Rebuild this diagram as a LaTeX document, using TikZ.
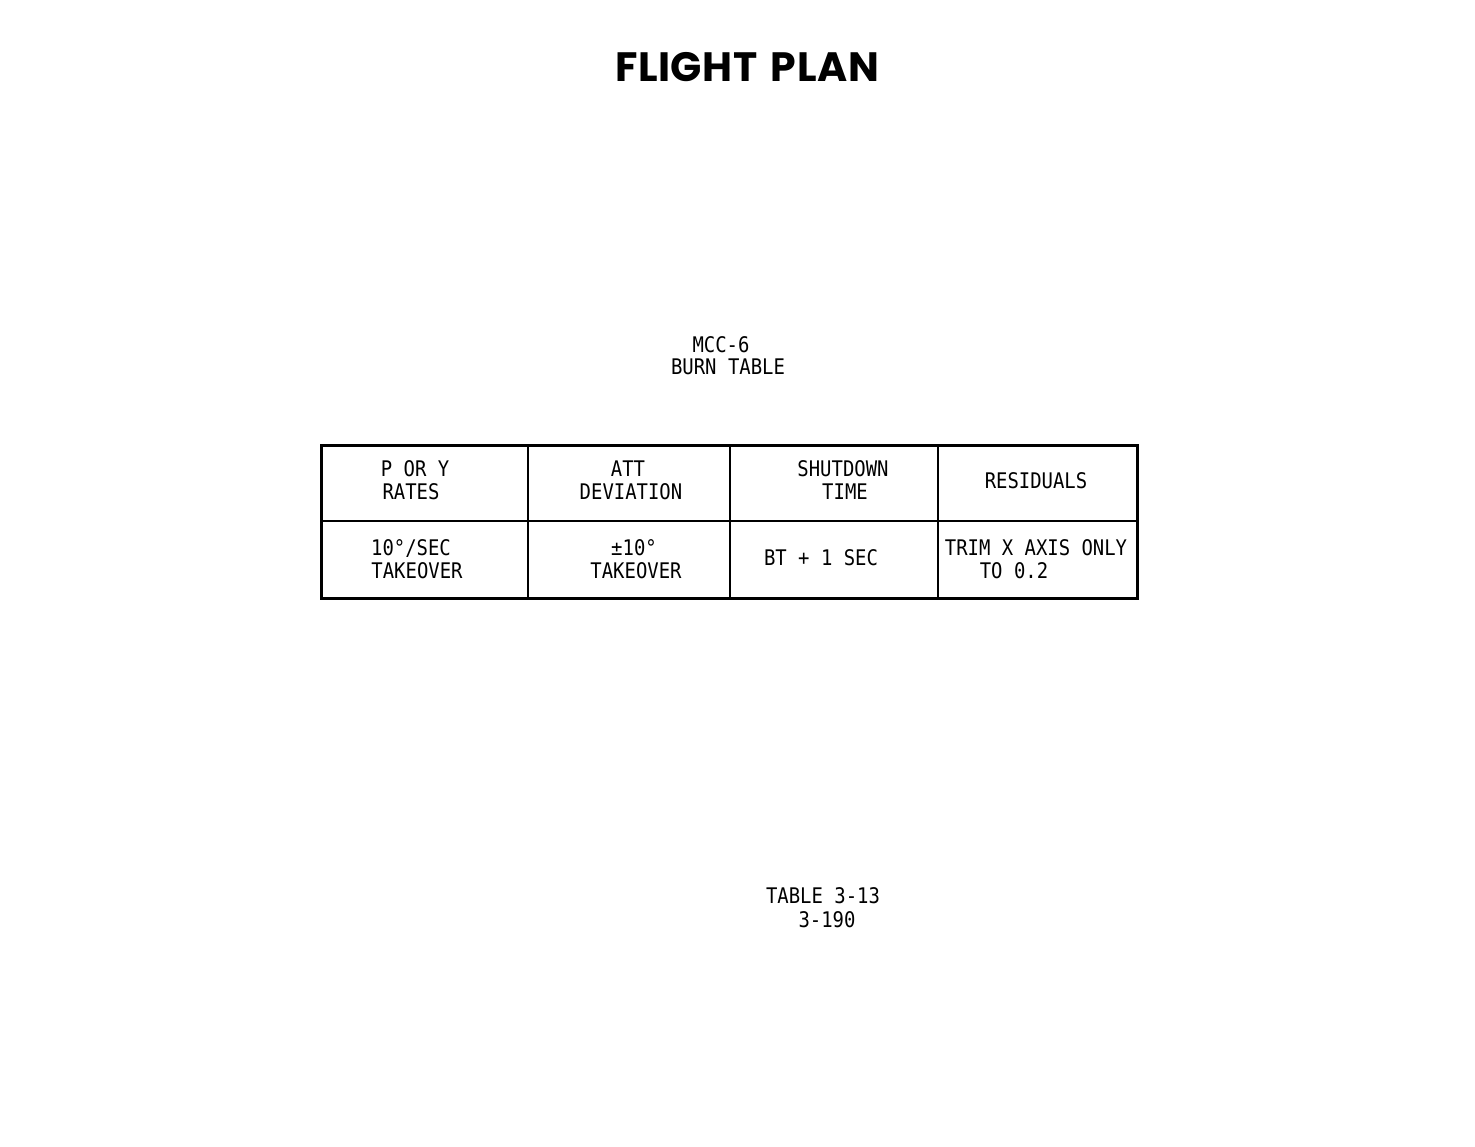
\documentclass[tikz,border=0pt]{standalone}
\usepackage{fontspec}
\newfontfamily\typefont[FakeStretch=0.88]{DejaVu Sans Mono}
\newfontfamily\titlefont[LetterSpace=1.5]{Poppins}
\begin{document}
\begin{tikzpicture}[x=1pt,y=-1pt,
  txt/.style={anchor=base,inner sep=0pt,font=\typefont\fontsize{21.5}{23}\selectfont},
  ttl/.style={anchor=base,inner sep=0pt,font=\titlefont\bfseries\fontsize{41}{46}\selectfont},
  outer/.style={line width=3pt,line join=miter},
  inner/.style={line width=2.6pt}]
\useasboundingbox (0,0) rectangle (1475,1147);
\fill[white] (0,0) rectangle (1475,1147);
% title
\node[ttl] (title) at (747,82) {FLIGHT\hspace{4pt} PLAN};
% caption
\node[txt] (cap1) at (721,353) {MCC-6};
\node[txt] (cap2) at (728,375) {BURN TABLE};
% table
\coordinate (tl) at (321,445);
\coordinate (br) at (1137,598);
\draw[outer] (tl) rectangle (br);
\draw[inner] (321,521) -- (1137,521);
\draw[inner] (528,445) -- (528,598);
\draw[inner] (730,445) -- (730,598);
\draw[inner] (938,445) -- (938,598);
% header row
\node[txt] (h1a) at (415,476) {P OR Y};
\node[txt] (h1b) at (411,499) {RATES};
\node[txt] (h2a) at (628,476) {ATT};
\node[txt] (h2b) at (631,499) {DEVIATION};
\node[txt] (h3a) at (843,476) {SHUTDOWN};
\node[txt] (h3b) at (845,499) {TIME};
\node[txt] (h4) at (1036,488) {RESIDUALS};
% data row
\node[txt] (d1a) at (411,555) {10°/SEC};
\node[txt] (d1b) at (417,578) {TAKEOVER};
\node[txt] (d2a) at (634,555) {±10°};
\node[txt] (d2b) at (636,578) {TAKEOVER};
\node[txt] (d3) at (821,565) {BT + 1 SEC};
\node[txt] (d4a) at (1036,555) {TRIM X AXIS ONLY};
\node[txt] (d4b) at (1014,578) {TO 0.2};
% footer
\node[txt] (f1) at (823,903) {TABLE 3-13};
\node[txt] (f2) at (827,927) {3-190};
\end{tikzpicture}
\end{document}
